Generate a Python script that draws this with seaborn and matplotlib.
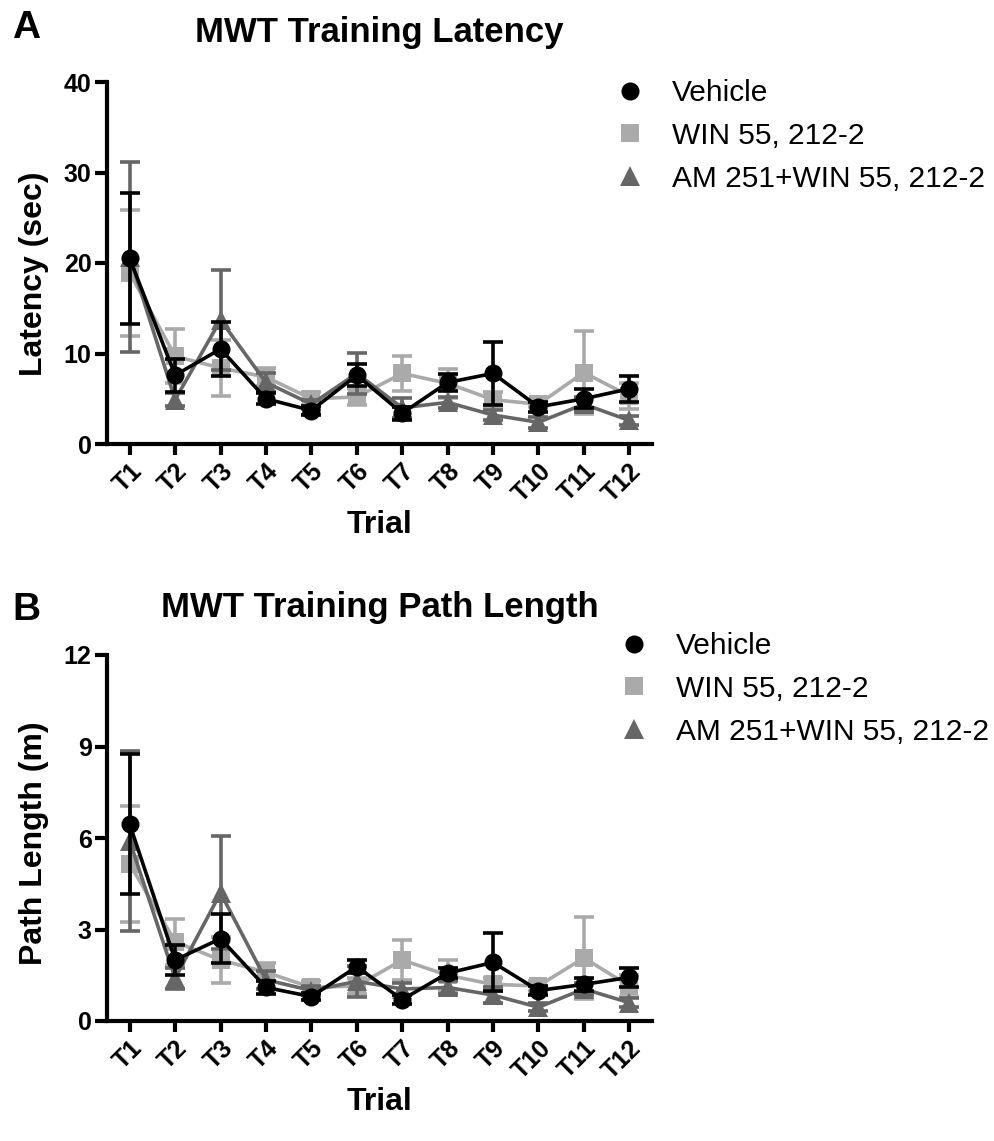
import numpy as np
import pandas as pd
import matplotlib
matplotlib.use("Agg")
import matplotlib.pyplot as plt
from matplotlib.lines import Line2D
import seaborn as sns

# ---------------- data ----------------
trials = ["T1", "T2", "T3", "T4", "T5", "T6", "T7", "T8", "T9", "T10", "T11", "T12"]
groups = ["Vehicle", "WIN 55, 212-2", "AM 251+WIN 55, 212-2"]

# Panel A: latency (sec), mean and SEM
lat_vehicle = [20.5, 7.6, 10.5, 5.0, 3.7, 7.6, 3.4, 6.8, 7.8, 4.1, 5.0, 6.1]
lat_vehicle_sem = [7.2, 1.8, 3.0, 0.6, 0.5, 1.2, 0.7, 0.9, 3.5, 0.55, 1.05, 1.45]
lat_win = [18.9, 9.7, 8.4, 7.4, 5.0, 5.2, 7.8, 6.7, 4.9, 4.4, 7.9, 5.3]
lat_win_sem = [7.0, 3.0, 3.1, 1.0, 0.7, 0.85, 1.95, 1.6, 0.8, 0.35, 4.6, 1.4]
lat_am = [20.7, 4.9, 13.7, 6.8, 4.4, 7.8, 4.0, 4.6, 3.2, 2.4, 4.4, 2.6]
lat_am_sem = [10.5, 0.7, 5.5, 1.0, 0.5, 2.3, 1.1, 0.6, 0.55, 0.6, 0.8, 0.5]

# Panel B: path length (m), mean and SEM
pl_vehicle = [6.45, 2.0, 2.7, 1.1, 0.8, 1.78, 0.7, 1.57, 1.92, 1.0, 1.2, 1.43]
pl_vehicle_sem = [2.3, 0.5, 0.8, 0.2, 0.12, 0.22, 0.15, 0.17, 0.95, 0.15, 0.22, 0.32]
pl_win = [5.15, 2.6, 2.0, 1.6, 1.1, 1.15, 2.0, 1.5, 1.2, 1.15, 2.07, 1.15]
pl_win_sem = [1.9, 0.75, 0.75, 0.3, 0.2, 0.25, 0.65, 0.5, 0.2, 0.15, 1.35, 0.35]
pl_am = [5.9, 1.4, 4.2, 1.35, 1.0, 1.3, 1.05, 1.1, 0.85, 0.45, 1.05, 0.6]
pl_am_sem = [2.95, 0.35, 1.85, 0.3, 0.15, 0.5, 0.2, 0.2, 0.25, 0.13, 0.2, 0.15]

lat_yticks = [0, 10, 20, 30, 40]
pl_yticks = [0, 3, 6, 9, 12]

# ---------------- styling ----------------
colors = {"Vehicle": "#000000", "WIN 55, 212-2": "#AAAAAA", "AM 251+WIN 55, 212-2": "#666666"}
markers = {"Vehicle": "o", "WIN 55, 212-2": "s", "AM 251+WIN 55, 212-2": "^"}
msizes = {"Vehicle": 13, "WIN 55, 212-2": 12.5, "AM 251+WIN 55, 212-2": 14}
draw_order = ["WIN 55, 212-2", "AM 251+WIN 55, 212-2", "Vehicle"]

sns.set_style("ticks")
plt.rcParams["font.family"] = ["Liberation Sans", "DejaVu Sans"]
plt.rcParams.update({
    "text.color": "black", "axes.labelcolor": "black", "axes.edgecolor": "black",
    "xtick.color": "black", "ytick.color": "black",
})


def make_df(series):
    rows = []
    for g, (m, s) in zip(groups, series):
        for i, t in enumerate(trials):
            rows.append({"group": g, "trial": t, "pos": i, "mean": m[i], "sem": s[i]})
    return pd.DataFrame(rows)


df_lat = make_df([(lat_vehicle, lat_vehicle_sem), (lat_win, lat_win_sem), (lat_am, lat_am_sem)])
df_pl = make_df([(pl_vehicle, pl_vehicle_sem), (pl_win, pl_win_sem), (pl_am, pl_am_sem)])

W, H = 995, 1141
fig = plt.figure(figsize=(W / 100, H / 100), dpi=100)
axA = fig.add_axes([107 / W, 1 - 444 / H, 545 / W, 362 / H])
axB = fig.add_axes([107 / W, 1 - 1021 / H, 545 / W, 366 / H])


def draw(ax, df, yticks, ylabel, title, title_pad, ylabel_y):
    for k, g in enumerate(draw_order):
        sub = df[df["group"] == g]
        ax.errorbar(sub["pos"], sub["mean"], yerr=sub["sem"], fmt="none",
                    ecolor=colors[g], elinewidth=2.6, capsize=7, capthick=2.6,
                    zorder=2 + 2 * k)
        sns.lineplot(data=sub, x="pos", y="mean", color=colors[g], marker=markers[g],
                     markersize=msizes[g], markeredgewidth=0, linewidth=2.6,
                     sort=False, errorbar=None, ax=ax, zorder=3 + 2 * k, legend=False)
    ax.set_xlim(-0.5, 11.5)
    ax.set_ylim(yticks[0], yticks[-1])
    ax.set_yticks(yticks)
    ax.set_xticks(range(len(trials)))
    ax.set_xticklabels(trials, rotation=45, ha="right", rotation_mode="anchor")
    for lab in ax.get_xticklabels() + ax.get_yticklabels():
        lab.set_fontweight("bold")
        lab.set_fontsize(18)
    sns.despine(ax=ax)
    for sp in ["left", "bottom"]:
        ax.spines[sp].set_linewidth(3)
    ax.tick_params(axis="y", width=3, length=9, pad=2)
    ax.tick_params(axis="x", width=3, length=8, pad=3)
    ax.set_xlabel("Trial", fontsize=23, fontweight="bold", labelpad=2)
    ax.set_ylabel(ylabel, fontsize=23, fontweight="bold")
    ax.yaxis.set_label_coords(-0.106, ylabel_y)
    ax.set_title(title, fontsize=25, fontweight="bold", pad=title_pad)


draw(axA, df_lat, lat_yticks, "Latency (sec)", "MWT Training Latency", 29, 0.47)
draw(axB, df_pl, pl_yticks, "Path Length (m)", "MWT Training Path Length", 27, 0.485)

handles = [Line2D([], [], marker=markers[g], color=colors[g], linestyle="None",
                  markersize=msizes[g], markeredgewidth=0) for g in groups]
leg_kw = dict(loc="upper left", frameon=False, fontsize=21.5, handlelength=0.9,
              handletextpad=0.95, labelspacing=0.5, borderpad=0, borderaxespad=0)
fig.legend(handles, groups, bbox_to_anchor=(617 / W, 1 - 79 / H), **leg_kw)
fig.legend(handles, groups, bbox_to_anchor=(621 / W, 1 - 632 / H), **leg_kw)

fig.text(12 / W, 1 - 38 / H, "A", fontsize=28, fontweight="bold", va="baseline")
fig.text(12 / W, 1 - 620 / H, "B", fontsize=28, fontweight="bold", va="baseline")

fig.savefig("out.png", dpi=100)
